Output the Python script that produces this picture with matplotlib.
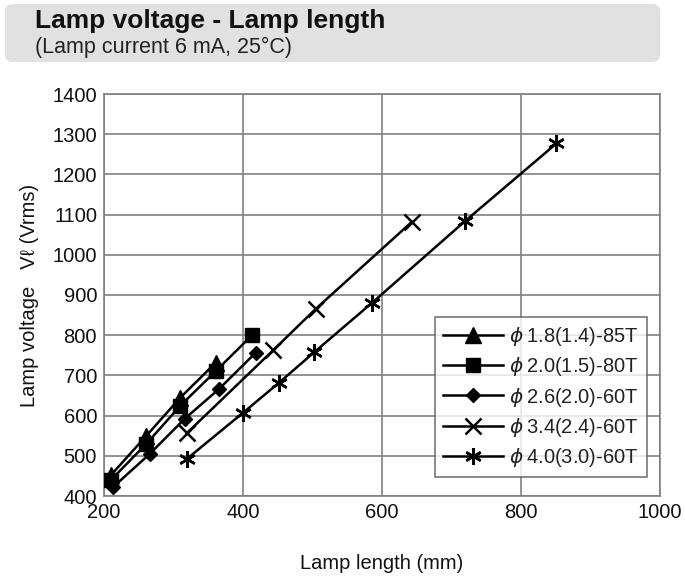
import matplotlib
matplotlib.use("Agg")
import matplotlib.pyplot as plt
from matplotlib.patches import FancyBboxPatch

plt.rcParams['font.family'] = ['Liberation Sans', 'DejaVu Sans']

# Data (lamp length mm, lamp voltage Vrms)
labels = ["1.8(1.4)-85T", "2.0(1.5)-80T", "2.6(2.0)-60T", "3.4(2.4)-60T", "4.0(3.0)-60T"]
len_18 = [210, 261, 310, 361]
v_18 = [452, 550, 645, 732]
len_20 = [210, 261, 310, 361, 413]
v_20 = [440, 530, 625, 711, 800]
len_26 = [213, 266, 316, 366, 418]
v_26 = [422, 505, 592, 667, 756]
len_34 = [319, 443, 505, 643]
v_34 = [556, 762, 866, 1082]
len_40 = [319, 400, 452, 502, 586, 719, 851]
v_40 = [492, 607, 682, 757, 881, 1083, 1277]

x_ticks = [200, 400, 600, 800, 1000]
y_ticks = [400, 500, 600, 700, 800, 900, 1000, 1100, 1200, 1300, 1400]

fig = plt.figure(figsize=(6.85, 5.78), dpi=100)

# title box
box = FancyBboxPatch((5/685, 1-62/578), 655/685, 58/578,
                     boxstyle="round,pad=0,rounding_size=0.012",
                     transform=fig.transFigure, facecolor="#e1e1e1",
                     edgecolor="none")
fig.patches.append(box)
fig.text(35/685, 1-21/578, "Lamp voltage - Lamp length", fontsize=19,
         fontweight='bold', va='center', ha='left', color='#111111')
fig.text(35/685, 1-47/578, "(Lamp current 6 mA, 25\u00b0C)", fontsize=15.5,
         va='center', ha='left', color='#222222')

ax = fig.add_axes([104/685, 1-496/578, 556/685, 402/578])
series = [(len_18, v_18, '^', 11, 'black'),
          (len_20, v_20, 's', 10.5, 'black'),
          (len_26, v_26, 'D', 7.5, 'black'),
          (len_34, v_34, 'x', 11, 'black'),
          (len_40, v_40, (6, 2, 0), 12, 'black')]
for (xs, ys, m, ms, c), lab in zip(series, labels):
    ax.plot(xs, ys, color='black', lw=1.8, marker=m, markersize=ms,
            markeredgewidth=1.8 if m in ('x', (6, 2, 0)) else 1,
            label=r"$\phi$" + "\u2009" + lab, zorder=3)

ax.set_xlim(200, 1000)
ax.set_ylim(400, 1400)
ax.set_xticks(x_ticks)
ax.set_yticks(y_ticks)
ax.tick_params(length=0, labelsize=14.5, pad=5, colors='#111111')
ax.grid(True, color='#808080', lw=1.2, zorder=0)
for s in ax.spines.values():
    s.set_color('#808080')
    s.set_linewidth(1.2)
ax.set_axisbelow(True)

ax.set_xlabel("Lamp length (mm)", fontsize=14.5, labelpad=23, color='#111111')
ax.set_ylabel("Lamp voltage   V\u2113 (Vrms)", fontsize=14.5, labelpad=10, color='#111111')

leg = ax.legend(loc='lower right', bbox_to_anchor=(0.995, 0.022), fontsize=14.5,
                frameon=True, fancybox=False, edgecolor='#555555',
                handlelength=3.0, handletextpad=0.3, labelspacing=0.36,
                borderpad=0.4)
leg.get_frame().set_linewidth(1.2)
for t in leg.get_texts():
    t.set_color('#222222')

fig.savefig("out.png", dpi=100)
